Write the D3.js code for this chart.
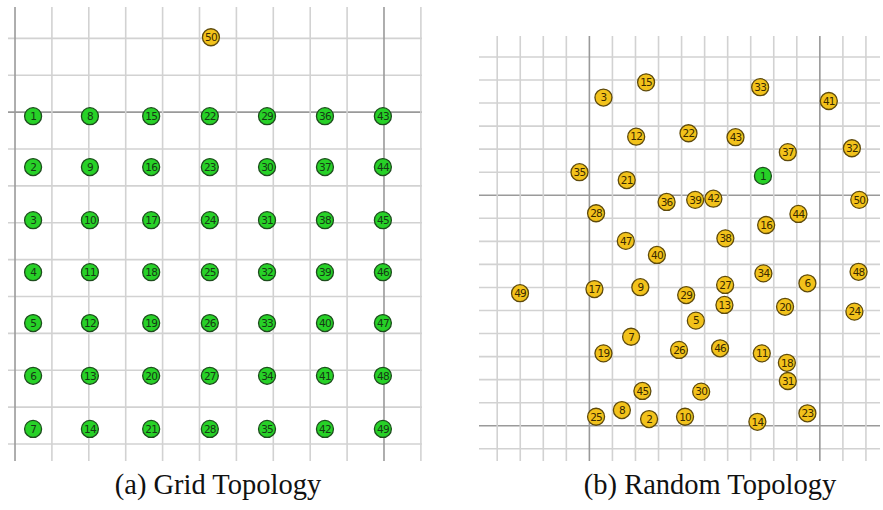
<!DOCTYPE html>
<html><head><meta charset="utf-8">
<script src="https://cdn.jsdelivr.net/npm/d3@7"></script>
<style>body{margin:0;background:#fff}svg{display:block}</style>
</head><body><svg id="c" width="883" height="510"></svg>
<script>
// Grid topology (units = grid cells)
const gridCols = [0.49, 2.03, 3.69, 5.28, 6.83, 8.40, 9.97];
const gridRows = [-0.11, -1.49, -2.93, -4.34, -5.72, -7.15, -8.59];
const gridExtra = [{id: 50, x: 5.31, y: 2.03}];
// Random topology
const randIds = [1,2,3,5,6,7,8,9,10,11,12,13,14,15,16,17,18,19,20,21,22,23,24,25,26,27,28,29,30,31,32,33,34,35,36,37,38,39,40,41,42,43,44,45,46,47,48,49,50];
const randX = [7.53,2.59,0.61,4.62,9.46,1.81,1.41,2.21,4.15,7.48,2.03,5.86,7.29,2.46,7.67,0.22,8.57,0.61,8.49,1.62,4.30,9.46,11.50,0.29,3.89,5.89,0.29,4.20,4.85,8.61,11.39,7.41,7.55,-0.43,3.35,8.61,5.90,4.59,2.93,10.39,5.38,6.34,9.07,2.30,5.67,1.58,11.68,-3.01,11.71];
const randY = [10.84,0.29,14.24,4.56,6.18,3.86,0.68,6.01,0.39,3.14,12.54,5.24,0.17,14.90,8.71,5.93,2.73,3.14,5.16,10.66,12.69,0.54,4.95,0.39,3.29,6.11,9.22,5.67,1.48,1.94,12.04,14.69,6.61,11.00,9.71,11.87,8.13,9.80,7.41,14.09,9.85,12.52,9.19,1.51,3.36,8.02,6.68,5.75,9.80];
const sinkId = 1;
const captions = ["(a) Grid Topology", "(b) Random Topology"];

const svg = d3.select("#c");
const GREEN = "#27d127", GSTROKE = "#1d4d1d", GOLD = "#f2c21b", OSTROKE = "#5e4a0c";

function panel(cfg) {
  const g = svg.append("g");
  const x = d3.scaleLinear().domain(cfg.xd).range(cfg.xr);
  const y = d3.scaleLinear().domain(cfg.yd).range(cfg.yr);
  const xt = d3.range(Math.ceil(cfg.xd[0]), Math.floor(cfg.xd[1]) + 1);
  const yt = d3.range(Math.ceil(cfg.yd[1]), Math.floor(cfg.yd[0]) + 1);
  g.selectAll("line.h").data(yt).join("line")
    .attr("x1", cfg.xr[0]).attr("x2", cfg.xr[1])
    .attr("y1", d => y(d)).attr("y2", d => y(d))
    .attr("stroke", d => cfg.major(d, "y") ? "#9a9a9a" : "#d2d2d2")
    .attr("stroke-width", 1.6);
  g.selectAll("line.v").data(xt).join("line")
    .attr("y1", cfg.yr[0]).attr("y2", cfg.yr[1])
    .attr("x1", d => x(d)).attr("x2", d => x(d))
    .attr("stroke", d => cfg.major(d, "x") ? "#9a9a9a" : "#d2d2d2")
    .attr("stroke-width", 1.6);
  const n = g.selectAll("g.n").data(cfg.nodes).join("g")
    .attr("transform", d => `translate(${x(d.x)},${y(d.y)})`);
  n.append("circle").attr("r", 8.5)
    .attr("fill", d => d.sink ? GREEN : GOLD)
    .attr("stroke", d => d.sink ? GSTROKE : OSTROKE).attr("stroke-width", 1.3);
  n.append("text").text(d => d.id)
    .attr("text-anchor", "middle").attr("dy", "0.36em")
    .attr("font-family", "DejaVu Sans").attr("font-size", 10.5)
    .attr("letter-spacing", -0.8)
    .attr("fill", d => d.sink ? "#153a15" : "#3a2a00");
  svg.append("text").text(cfg.caption)
    .attr("x", cfg.capX).attr("y", 494).attr("text-anchor", "middle")
    .attr("font-family", "Liberation Serif").attr("font-size", 28.5).attr("fill", "#111");
}

const gridNodes = [];
gridCols.forEach((cx, ci) => gridRows.forEach((ry, ri) => gridNodes.push({id: ci * 7 + ri + 1, x: cx, y: ry, sink: true})));
gridExtra.forEach(d => gridNodes.push({id: d.id, x: d.x, y: d.y, sink: false}));

panel({
  xd: [-0.19, 11.03], xr: [8, 422],
  yd: [2.85, -9.46], yr: [7, 461],
  major: (d, a) => a === "x" ? (d === 0 || d === 10) : d === 0,
  nodes: gridNodes, caption: captions[0], capX: 218
});

const randNodes = randIds.map((id, i) => ({id, x: randX[i], y: randY[i], sink: id === sinkId}));
panel({
  xd: [-4.79, 12.61], xr: [479, 880],
  yd: [16.91, -1.53], yr: [36, 461],
  major: (d) => d === 0 || d === 10,
  nodes: randNodes, caption: captions[1], capX: 710
});
</script></body></html>
